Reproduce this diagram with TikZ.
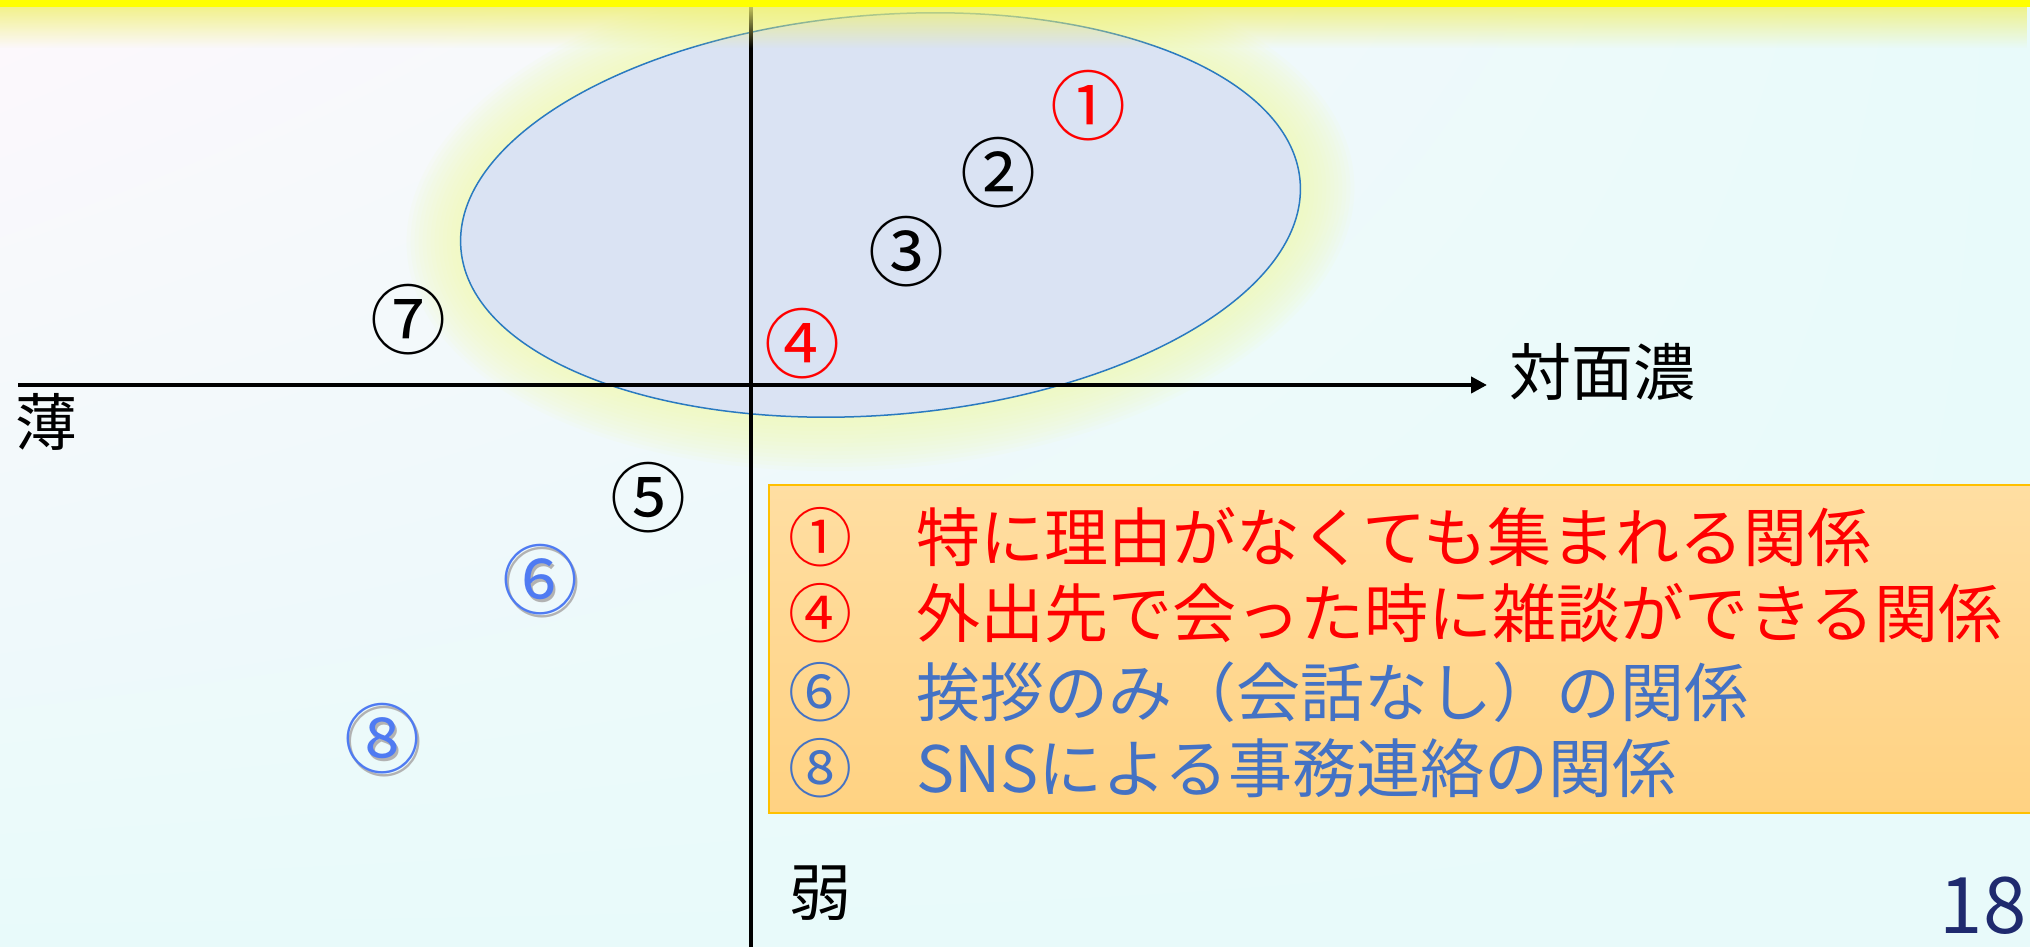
\documentclass[tikz,border=0pt]{standalone}
\usepackage{fontspec}
\setmainfont{Noto Sans CJK JP}
\usetikzlibrary{arrows.meta,fadings,shadings}

\definecolor{bgA}{HTML}{FDF8FC}
\definecolor{bgB}{HTML}{E8FAFA}
\definecolor{barY}{HTML}{FFFF00}
\definecolor{glowY}{HTML}{F2FAB0}
\definecolor{topglow}{HTML}{F0F070}
\definecolor{ellFill}{HTML}{DAE3F3}
\definecolor{ellLine}{HTML}{2A7AC0}
\definecolor{boxTop}{HTML}{FFDEA2}
\definecolor{boxBot}{HTML}{FFD282}
\definecolor{boxLine}{HTML}{FFC000}
\definecolor{legRed}{HTML}{FF0000}
\definecolor{legBlue}{HTML}{4472C4}
\definecolor{numBlue}{HTML}{4F7BF2}
\definecolor{pageNavy}{HTML}{1F2A6E}

\newcommand\shadowed[1]{\makebox[0pt][l]{\hspace{2.5pt}\raisebox{-2.5pt}{\textcolor{black!30}{#1}}}#1}

\begin{document}
\begin{tikzpicture}[x=1pt,y=1pt,
  num/.style={inner sep=0pt, font=\fontsize{76}{76}\selectfont},
  axislabel/.style={inner sep=0pt, font=\fontsize{62}{62}\selectfont},
  legline/.style={anchor=west, inner sep=0pt, font=\fontsize{64}{64}\selectfont},
  axisline/.style={line width=4pt, black},
  ellrot/.style={rotate around={4.6:(880.5,731)}},
]
\useasboundingbox (0,0) rectangle (2030,946);
% background
\shade[upper left=bgA, upper right=bgB, lower left=bgB, lower right=bgB] (0,0) rectangle (2030,946);
% soft glow round the ellipse
\foreach \i in {1,...,14} {
  \fill[glowY, opacity=0.075, ellrot] (880.5,731) ellipse ({419+4*\i} and {198+4*\i});
}
% ellipse
\fill[ellFill, ellrot] (880.5,731) ellipse (421 and 200);
\draw[ellLine, line width=1.5pt, ellrot] (880.5,731) ellipse (421 and 200);
% axes
\coordinate (hstart) at (18,561);
\coordinate (hend) at (1487,561);
\coordinate (vtop) at (751,939);
\coordinate (vbot) at (751,-2);
\draw[axisline] (vtop) -- (vbot);
\draw[axisline, -{Triangle[length=16pt,width=16pt]}] (hstart) -- (hend);
% top bar and its glow
\fill[topglow, path fading=south, fill opacity=0.8] (0,898) rectangle (2030,939);
\fill[barY] (0,939) rectangle (2030,946);
% legend box
\draw[boxLine, line width=1.5pt, top color=boxTop, bottom color=boxBot] (769,133) rectangle (2040,461);
\node[legline, text=legRed] (l1) at (788,409) {①　特に理由がなくても集まれる関係};
\node[legline, text=legRed] (l4) at (788,333) {④　外出先で会った時に雑談ができる関係};
\node[legline, text=legBlue] (l6) at (788,254) {⑥　挨拶のみ（会話なし）の関係};
\node[legline, text=legBlue] (l8) at (788,178) {⑧　SNSによる事務連絡の関係};
% circled numbers on the plot
\node[num, text=legRed] (n1) at (1088,840) {①};
\node[num] (n2) at (998,773) {②};
\node[num] (n3) at (906,694) {③};
\node[num, text=legRed] (n4) at (802,602) {④};
\node[num] (n5) at (648,448) {⑤};
\node[num, text=numBlue] (n6) at (540,365) {\shadowed{⑥}};
\node[num] (n7) at (408,626) {⑦};
\node[num, text=numBlue] (n8) at (382,206) {\shadowed{⑧}};
% axis labels
\node[axislabel, anchor=west] (xlab) at (1509,574) {対面濃};
\node[axislabel] (wlab) at (46,524) {薄};
\node[axislabel] (slab) at (820,53) {弱};
% page number
\node[inner sep=0pt, font=\fontsize{78}{78}\selectfont, text=pageNavy] (page) at (1983,40) {18};
\end{tikzpicture}
\end{document}
